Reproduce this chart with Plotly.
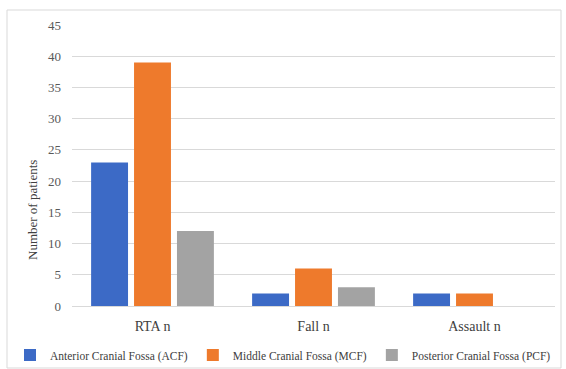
import plotly.graph_objects as go

categories = ["RTA n", "Fall n", "Assault n"]
acf = [23, 2, 2]
mcf = [39, 6, 2]
pcf = [12, 3, 0]
series_names = ["Anterior Cranial Fossa (ACF)", "Middle Cranial Fossa (MCF)", "Posterior Cranial Fossa (PCF)"]
y_ticks = [0, 5, 10, 15, 20, 25, 30, 35, 40, 45]

W, H = 566, 369
ml, mr, mt, mb = 72, 11, 25, 63
pw, ph = W - ml - mr, H - mt - mb

def px(x):
    return (x - ml) / pw

def py(y):
    return (H - mb - y) / ph

font = "Times New Roman"
colors = ["#3C6AC6", "#EE7A2C", "#A3A3A3"]

fig = go.Figure()
for name, vals, c in zip(series_names, [acf, mcf, pcf], colors):
    fig.add_trace(go.Bar(x=categories, y=vals, name=name, marker=dict(color=c, line=dict(width=0))))

fig.update_layout(
    width=W, height=H,
    margin=dict(l=ml, r=mr, t=mt, b=mb, autoexpand=False),
    paper_bgcolor="white", plot_bgcolor="white",
    barmode="group", bargap=0.2, bargroupgap=0.14,
    font=dict(family=font, color="#595959", size=13),
    xaxis=dict(showgrid=False, showline=False, ticks="", tickfont=dict(family=font, size=14, color="#404040"),
               ticklabelstandoff=10),
    yaxis=dict(range=[0, 45], tickvals=y_ticks, showgrid=True, gridcolor="#D9D9D9", gridwidth=1,
               zeroline=True, zerolinecolor="#D9D9D9", zerolinewidth=1, showline=False,
               tickfont=dict(family=font, size=13, color="#595959"), ticks="", ticklabelstandoff=10),
    showlegend=True,
    legend=dict(orientation="h", x=px(10), xanchor="left", y=py(355), yanchor="middle",
                font=dict(family=font, size=11.5, color="#404040"), itemwidth=30, tracegroupgap=0,
                bgcolor="rgba(0,0,0,0)"),
    shapes=[dict(type="rect", xref="paper", yref="paper", x0=px(7), x1=px(561), y0=py(368), y1=py(10),
                 line=dict(color="#D9D9D9", width=1), layer="below")],
    annotations=[dict(text="Number of patients", xref="paper", yref="paper", x=px(32), y=py(210),
                      textangle=-90, showarrow=False, font=dict(family=font, size=13, color="#404040"),
                      xanchor="center", yanchor="middle")],
)

fig.write_html("out.html")
